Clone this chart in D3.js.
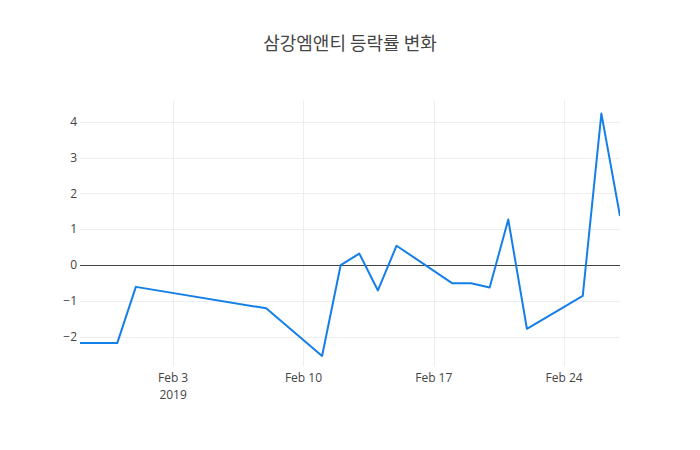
<!DOCTYPE html>
<html>
<head>
<meta charset="utf-8">
<script src="https://cdn.jsdelivr.net/npm/d3@7/dist/d3.min.js"></script>
<style>
  html, body { margin: 0; padding: 0; background: #fff; }
  svg { display: block; font-family: "Open Sans", "Noto Sans", sans-serif; }
</style>
</head>
<body>
<svg id="chart" width="700" height="450"></svg>
<script>
const titleText = "삼강엠앤티 등락률 변화";
const dates = ["2019-01-29","2019-01-31","2019-02-01","2019-02-08","2019-02-11","2019-02-12",
  "2019-02-13","2019-02-14","2019-02-15","2019-02-18","2019-02-19","2019-02-20",
  "2019-02-21","2019-02-22","2019-02-25","2019-02-26","2019-02-27"];
const changes = [-2.18,-2.18,-0.61,-1.21,-2.54,0.0,0.32,-0.71,0.54,-0.51,-0.51,-0.63,
  1.27,-1.78,-0.86,4.23,1.37];
const yTicks = [-2,-1,0,1,2,3,4];
const xTickDates = ["2019-02-03","2019-02-10","2019-02-17","2019-02-24"];
const yearLabel = "2019";

const parse = d3.utcParse("%Y-%m-%d");
const data = dates.map((d,i)=>({date: parse(d), value: changes[i]}));

const W = 700, H = 450;
const m = {l: 80, r: 80, t: 100, b: 84};
const svg = d3.select("#chart");

const x = d3.scaleUtc()
  .domain(d3.extent(data, d=>d.date))
  .range([m.l, W - m.r]);
const y = d3.scaleLinear()
  .domain([-2.82, 4.61])
  .range([H - m.b, m.t]);
const px = v => Math.round(v) + 0.5;

// grid
const g = svg.append("g").attr("shape-rendering", "crispEdges");
g.selectAll(".hg").data(yTicks.filter(d => d !== 0)).join("line")
  .attr("x1", m.l).attr("x2", W - m.r)
  .attr("y1", d=>px(y(d))).attr("y2", d=>px(y(d)))
  .attr("stroke", "#eee").attr("stroke-width", 1);
g.selectAll(".vg").data(xTickDates.map(parse)).join("line")
  .attr("x1", d=>px(x(d))).attr("x2", d=>px(x(d)))
  .attr("y1", m.t).attr("y2", H - m.b)
  .attr("stroke", "#eee").attr("stroke-width", 1);
g.append("line")
  .attr("x1", m.l).attr("x2", W - m.r)
  .attr("y1", px(y(0))).attr("y2", px(y(0)))
  .attr("stroke", "#444").attr("stroke-width", 1);

// y tick labels
svg.append("g").selectAll("text").data(yTicks).join("text")
  .attr("x", m.l - 3).attr("y", d=>y(d)).attr("dy", "0.35em")
  .attr("text-anchor", "end")
  .attr("font-size", 12).attr("fill", "#444")
  .text(d => d < 0 ? "\u2212" + Math.abs(d) : String(d));

// x tick labels
svg.append("g").selectAll("text").data(xTickDates.map(parse)).join("text")
  .attr("x", d=>x(d)).attr("y", H - m.b + 16)
  .attr("text-anchor", "middle")
  .attr("font-size", 12).attr("fill", "#444")
  .text(d => d3.utcFormat("%b %-d")(d));
svg.append("text")
  .attr("x", x(parse(xTickDates[0]))).attr("y", H - m.b + 33)
  .attr("text-anchor", "middle")
  .attr("font-size", 12).attr("fill", "#444")
  .text(yearLabel);

// line
const line = d3.line().x(d=>x(d.date)).y(d=>y(d.value));
svg.append("defs").append("clipPath").attr("id","clip")
  .append("rect").attr("x", m.l).attr("y", m.t).attr("width", W-m.l-m.r).attr("height", H-m.t-m.b);
svg.append("path").datum(data)
  .attr("clip-path", "url(#clip)")
  .attr("d", line)
  .attr("fill", "none")
  .attr("stroke", "#147fe8")
  .attr("stroke-width", 2)
  .attr("stroke-linejoin", "round");

// title
svg.append("text")
  .attr("x", W/2).attr("y", 50)
  .attr("text-anchor", "middle")
  .attr("font-family", "'Noto Sans CJK KR', 'Open Sans', sans-serif")
  .attr("font-size", 18).attr("fill", "#444")
  .text(titleText);
</script>
</body>
</html>
